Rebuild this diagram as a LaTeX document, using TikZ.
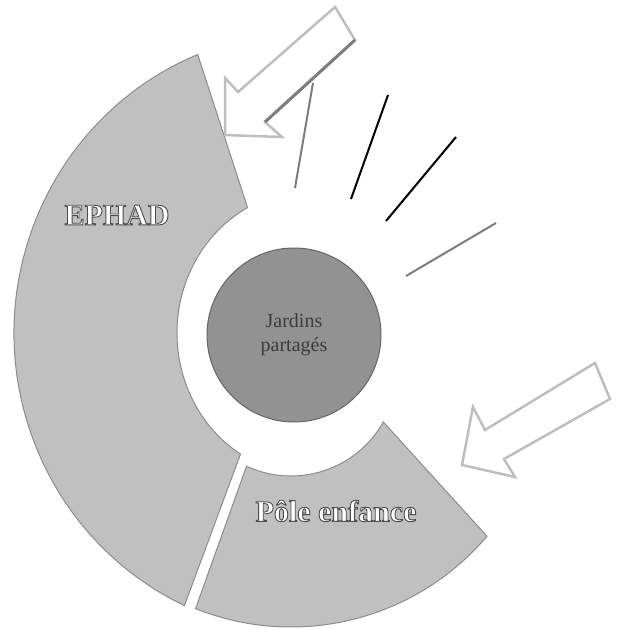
\documentclass[tikz,border=0pt]{standalone}
\usepackage{fontspec}
\setmainfont{Liberation Serif}
\usepackage{xcolor}
\definecolor{ringgray}{RGB}{192,192,192}
\definecolor{ringedge}{RGB}{140,140,140}
\definecolor{hubgray}{RGB}{146,146,146}
\definecolor{hubedge}{RGB}{100,100,100}
\definecolor{arrowgray}{RGB}{190,190,190}
\definecolor{raygray}{RGB}{125,125,125}
\definecolor{textdark}{RGB}{60,60,60}
\usetikzlibrary{calc}
% white letters with a grey outline (text render mode 2)
\newcommand{\hollowtext}[1]{\special{pdf:literal direct 0.3 G 0.9 w 2 Tr}#1\special{pdf:literal direct 0 Tr}}

\begin{document}
\begin{tikzpicture}[x=1pt, y=1pt,
  segment/.style={fill=ringgray, draw=ringedge, line width=1pt},
  blockarrow/.style={draw=arrowgray, line width=2.5pt, line join=miter},
  ray/.style={line width=2pt},
  seglabel/.style={font=\fontsize{30}{30}\selectfont\bfseries, text=white}]
  \useasboundingbox (0,0) rectangle (616,-629);
  \coordinate (ec) at (310,-333);
  \coordinate (pc) at (291,-370);

  % --- EPHAD segment ---
  \draw[segment] ([shift={(112.3:296 and 301)}]ec)
    arc[start angle=112.3, end angle=244.9, x radius=296, y radius=301]
    -- ([shift={(238.5:133 and 142)}]ec)
    arc[start angle=238.5, end angle=118, x radius=133, y radius=142] -- cycle;
  \node[seglabel] (ephad) at (117,-215) {\hollowtext{EPHAD}};

  % --- Pole enfance segment ---
  \draw[segment] ([shift={(248.2:257)}]pc)
    arc[start angle=248.2, end angle=319.7, radius=257]
    -- ([shift={(330.6:106)}]pc)
    arc[start angle=330.6, end angle=245.2, radius=106] -- cycle;
  \node[seglabel] (pole) at (336,-511) {\hollowtext{Pôle enfance}};

  % --- Centre ---
  \node[circle, minimum size=174pt, inner sep=0pt, fill=hubgray, draw=hubedge,
    line width=1pt, align=center, text=textdark,
    font=\fontsize{20}{24}\selectfont] (jardins) at (294,-335) {Jardins\\partagés};

  % Block arrows
  \draw[blockarrow] (335,-7) -- (355,-40) -- (265,-122) -- (282,-137)
    -- (225,-135) -- (225,-78) -- (238,-92) -- cycle;
  \draw[raygray, line width=3pt] (355,-40) -- (265,-122);
  \draw[blockarrow] (595,-363) -- (610,-399) -- (504,-459) -- (515,-477)
    -- (462,-465) -- (473,-407) -- (485,-430) -- cycle;

  % Rays
  \draw[ray, raygray] (313,-83) -- (295,-188);
  \draw[ray, black] (388,-95) -- (351,-199);
  \draw[ray, black] (456,-137) -- (386,-221);
  \draw[ray, raygray] (496,-223) -- (406,-276);
\end{tikzpicture}
\end{document}
